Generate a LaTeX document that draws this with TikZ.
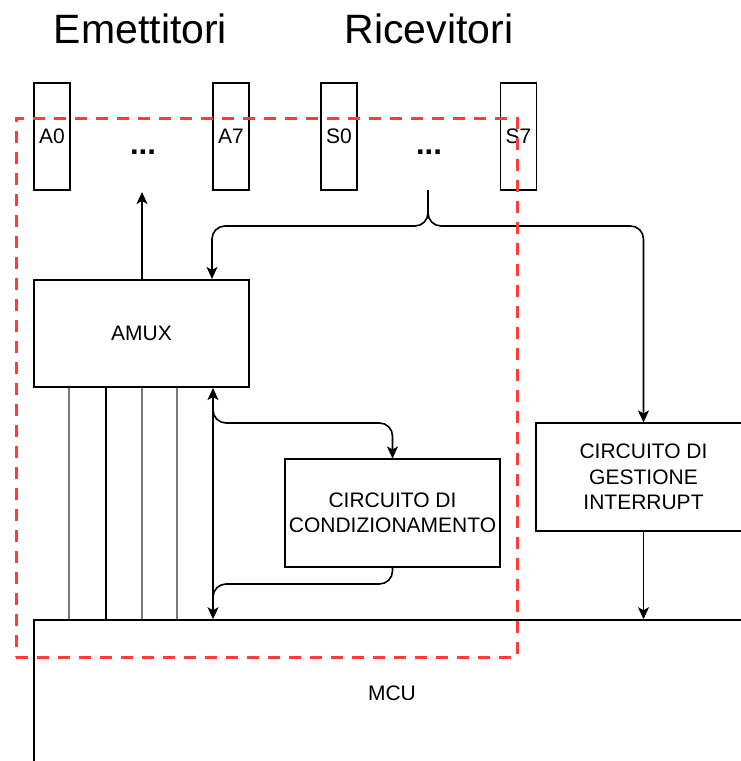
\documentclass[tikz,border=0pt]{standalone}
\usepackage{fontspec}
\setmainfont{Liberation Sans}
\usetikzlibrary{arrows.meta,calc}
\definecolor{grpred}{RGB}{255,60,60}
\definecolor{wire}{RGB}{120,120,120}
\begin{document}
\begin{tikzpicture}[x=1pt,y=-1pt,
  box/.style={draw=black,line width=1.6pt,inner sep=0pt,align=center,font=\fontsize{21}{25.5}\selectfont},
  pin/.style={box,minimum width=36pt,minimum height=107pt},
  blk/.style={box,minimum width=215pt,minimum height=107.5pt},
  title/.style={inner sep=0pt,anchor=base,font=\fontsize{41}{45}\selectfont},
  dots/.style={inner sep=0pt,anchor=base,font=\fontsize{31}{33}\selectfont\bfseries},
  conn/.style={draw=black,line width=1.6pt,rounded corners=13pt},
  tip/.style={-{Stealth[length=12pt,width=11pt,inset=3pt]}},
  bitip/.style={{Stealth[length=12pt,width=11pt,inset=3pt]}-{Stealth[length=12pt,width=11pt,inset=3pt]}},
  graywire/.style={draw=wire,line width=2pt},
  blackwire/.style={draw=black,line width=1.6pt},
  group/.style={draw=grpred,line width=3pt,dash pattern=on 12pt off 9pt,minimum width=501pt,minimum height=539pt,inner sep=0pt}
]
\useasboundingbox (0,0) rectangle (741,761);
\clip (0,0) rectangle (741,761);

% titles
\node[title] (temit) at (140.5,43) {Emettitori};
\node[title] (trice) at (429,43) {Ricevitori};

% pins
\node[pin] (a0) at (52,136.5) {A0};
\node[pin] (a7) at (231,136.5) {A7};
\node[pin] (s0) at (339,136.5) {S0};
\node[pin] (s7) at (518.5,136.5) {S7};
\node[dots] (da) at (143,154) {...};
\node[dots] (ds) at (429,154) {...};
\coordinate (dab) at (142,192);
\coordinate (dsb) at (428,190);

% blocks
\node[blk] (amux) at (141.5,333.5) {AMUX};
\node[blk] (cond) at (392.5,513) {CIRCUITO DI\\CONDIZIONAMENTO};
\node[blk] (gest) at (643.5,477) {CIRCUITO DI\\GESTIONE\\INTERRUPT};
\node[box,minimum width=716pt,minimum height=146pt] (mcu) at (392,693) {MCU};

% helper x positions
\coordinate (x1) at (69,0);
\coordinate (x2) at (106,0);
\coordinate (x3) at (142,0);
\coordinate (x4) at (177,0);
\coordinate (xb) at (213,0);
\coordinate (xl) at (212,0);
\coordinate (yb) at (0,226);

% arrow to emitters
\draw[blackwire,tip] (amux.north -| dab) -- (dab);

% brace from receivers
\draw[conn,tip] (dsb) -- (dsb |- yb) -- (xl |- yb) -- (amux.north -| xl);
\draw[conn,tip] (dsb) -- (dsb |- yb) -- (gest.north |- yb) -- (gest.north);

% wires AMUX -> MCU
\draw[graywire] (amux.south -| x1) -- (mcu.north -| x1);
\draw[blackwire] (amux.south -| x2) -- (mcu.north -| x2);
\draw[graywire] (amux.south -| x3) -- (mcu.north -| x3);
\draw[graywire] (amux.south -| x4) -- (mcu.north -| x4);

% bidirectional bus
\draw[blackwire,bitip] (amux.south -| xb) -- (mcu.north -| xb);
\coordinate (ybr1) at (0,423);
\coordinate (ybr2) at (0,584);
\coordinate (ystart) at (0,398);
\draw[conn,tip] (xb |- ystart) -- (xb |- ybr1) -- (cond.north |- ybr1) -- (cond.north);
\draw[conn] (cond.south) -- (cond.south |- ybr2) -- (xb |- ybr2) -- ($(mcu.north -| xb)+(0,-12)$);

% interrupt -> MCU
\draw[blackwire,tip] (gest.south) -- (mcu.north -| gest.south);

% group
\node[group] (grp) at (266.5,387.5) {};
\end{tikzpicture}
\end{document}
